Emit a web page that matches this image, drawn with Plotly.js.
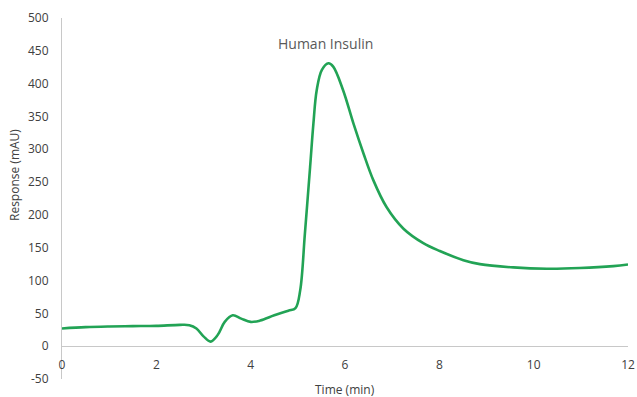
<!DOCTYPE html>
<html>
<head>
<meta charset="utf-8">
<script src="https://cdn.plot.ly/plotly-3.0.1.min.js"></script>
<style>html,body{margin:0;padding:0;background:#fff;}#chart{width:637px;height:397px;}</style>
</head>
<body>
<div id="chart"></div>
<script>
const timeMin = [0, 0.5, 1, 1.5, 2, 2.5, 2.7, 2.85, 3.0, 3.15, 3.3, 3.45, 3.62, 3.8, 4.0, 4.2, 4.5, 4.8, 4.95, 5.05, 5.15, 5.26, 5.33, 5.40, 5.51, 5.65, 5.75, 5.96, 6.18, 6.39, 6.60, 6.88, 7.24, 7.66, 8.01, 8.51, 8.86, 9.57, 10.28, 10.98, 11.69, 12.0];
const responseMAU = [27, 29, 30, 30.5, 31, 32.5, 32, 27, 15, 7, 17, 37, 47, 42, 37, 39, 47, 54, 58, 85, 172, 273, 339, 390, 421, 431, 426, 390, 339, 294, 253, 212, 179, 157, 145, 131, 125, 120, 118, 119, 122, 124.5];
const xTicks = [0, 2, 4, 6, 8, 10, 12];
const yTicks = [-50, 0, 50, 100, 150, 200, 250, 300, 350, 400, 450, 500];
const chartTitle = "Human Insulin";
const xTitle = "Time (min)";
const yTitle = "Response (mAU)";

const font = {family: "Open Sans, Liberation Sans, sans-serif", size: 12, color: "#404040"};

Plotly.newPlot("chart", [{
  x: timeMin, y: responseMAU, type: "scatter", mode: "lines",
  line: {color: "#22a355", width: 2.6, shape: "spline", smoothing: 1.0},
  hoverinfo: "skip"
}], {
  width: 637, height: 397,
  margin: {l: 62, r: 9, t: 18, b: 18},
  paper_bgcolor: "#fff", plot_bgcolor: "#fff",
  showlegend: false,
  font: font,
  xaxis: {
    range: [0, 12], tickvals: xTicks, ticktext: xTicks.map(String),
    anchor: "free", position: 33/361,
    showline: true, linecolor: "#c8c8c8", linewidth: 1,
    showgrid: false, zeroline: false, ticks: "", ticklabelstandoff: 8,
    tickfont: font
  },
  yaxis: {
    range: [-50, 500], tickvals: yTicks, ticktext: yTicks.map(String),
    showline: true, linecolor: "#c8c8c8", linewidth: 1,
    showgrid: false, zeroline: false, ticks: "", ticklabelstandoff: 10,
    tickfont: font
  },
  annotations: [
    {text: chartTitle, xref: "paper", yref: "paper", x: (325-62)/566, y: (379-43)/361,
     showarrow: false, xanchor: "center", yanchor: "middle",
     font: {family: font.family, size: 14, color: "#595959"}},
    {text: xTitle, xref: "paper", yref: "paper", x: 0.5, y: (379-389)/361,
     showarrow: false, xanchor: "center", yanchor: "middle", font: font},
    {text: yTitle, xref: "paper", yref: "paper", x: (15-62)/566, y: (379-175)/361,
     showarrow: false, xanchor: "center", yanchor: "middle", textangle: -90, font: font}
  ]
}, {staticPlot: true});
</script>
</body>
</html>
